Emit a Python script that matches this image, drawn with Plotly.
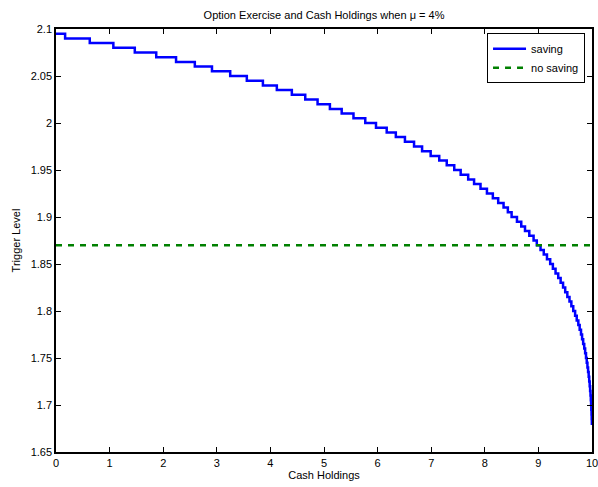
import plotly.graph_objects as go

# Step levels of the "saving" trigger curve and x where each level starts
step_start_x = [
    0.0, 0.17, 0.63, 1.07, 1.47, 1.87, 2.24, 2.59, 2.91, 3.25,
    3.56, 3.86, 4.12, 4.40, 4.65, 4.88, 5.11, 5.33, 5.55, 5.77,
    5.97, 6.17, 6.34, 6.51, 6.68, 6.83, 6.99, 7.15, 7.29, 7.43,
    7.55, 7.69, 7.80, 7.92, 8.04, 8.15, 8.25, 8.35, 8.43, 8.50,
    8.60, 8.68, 8.75, 8.83, 8.91, 8.97, 9.04, 9.10, 9.16, 9.22,
    9.27, 9.32, 9.37, 9.415, 9.46, 9.50, 9.54, 9.58, 9.615, 9.65,
    9.685, 9.715, 9.745, 9.77, 9.795, 9.815, 9.835, 9.855, 9.872, 9.888,
    9.902, 9.915, 9.927, 9.938, 9.948, 9.957, 9.965, 9.972, 9.978, 9.983,
    9.987, 9.991, 9.994, 9.997, 10.0,
]
step_level = [
    2.095, 2.090, 2.085, 2.080, 2.075, 2.070, 2.065, 2.060, 2.055, 2.050,
    2.045, 2.040, 2.035, 2.030, 2.025, 2.020, 2.015, 2.010, 2.005, 2.000,
    1.995, 1.990, 1.985, 1.980, 1.975, 1.970, 1.965, 1.960, 1.955, 1.950,
    1.945, 1.940, 1.935, 1.930, 1.925, 1.920, 1.915, 1.910, 1.905, 1.900,
    1.895, 1.890, 1.885, 1.880, 1.875, 1.870, 1.865, 1.860, 1.855, 1.850,
    1.845, 1.840, 1.835, 1.830, 1.825, 1.820, 1.815, 1.810, 1.805, 1.800,
    1.795, 1.790, 1.785, 1.780, 1.775, 1.770, 1.765, 1.760, 1.755, 1.750,
    1.745, 1.740, 1.735, 1.730, 1.725, 1.720, 1.715, 1.710, 1.705, 1.700,
    1.695, 1.690, 1.685, 1.680, 1.680,
]

no_saving_x = [0, 10]
no_saving_y = [1.87, 1.87]

x_ticks = [0, 1, 2, 3, 4, 5, 6, 7, 8, 9, 10]
x_tick_labels = ["0", "1", "2", "3", "4", "5", "6", "7", "8", "9", "10"]
y_ticks = [1.65, 1.7, 1.75, 1.8, 1.85, 1.9, 1.95, 2.0, 2.05, 2.1]
y_tick_labels = ["1.65", "1.7", "1.75", "1.8", "1.85", "1.9", "1.95", "2", "2.05", "2.1"]

font_family = "Liberation Sans, Arial, Helvetica, sans-serif"

fig = go.Figure()
fig.add_trace(go.Scatter(
    x=step_start_x, y=step_level, mode="lines", name="saving",
    line=dict(color="#0000FF", width=2.5, shape="hv"),
))
fig.add_trace(go.Scatter(
    x=no_saving_x, y=no_saving_y, mode="lines", name="no saving",
    line=dict(color="#008000", width=2.5, dash="6px,6px"),
))

axis_common = dict(
    showline=True, linecolor="black", linewidth=1.5, mirror="ticks",
    ticks="inside", ticklen=5, tickcolor="black", tickwidth=1,
    showgrid=False, zeroline=False, ticklabeloverflow="allow",
    automargin=False,
    tickfont=dict(family=font_family, size=11, color="black"),
)

fig.update_layout(
    width=598, height=487,
    margin=dict(l=56, r=6, t=29, b=35, autoexpand=False),
    paper_bgcolor="white", plot_bgcolor="white",
    font=dict(family=font_family, size=11, color="black"),
    title=dict(text="Option Exercise and Cash Holdings when μ = 4%",
               x=(56 + 268) / 598, xanchor="center", y=1 - 15 / 487, yanchor="middle",
               font=dict(size=11, color="black")),
    xaxis=dict(range=[0, 10], tickvals=x_ticks, ticktext=x_tick_labels,
               title=dict(text="Cash Holdings", standoff=3, font=dict(size=11)),
               **axis_common),
    yaxis=dict(range=[1.65, 2.1], tickvals=y_ticks, ticktext=y_tick_labels,
               title=dict(text="Trigger Level", standoff=8, font=dict(size=11)),
               **axis_common),
    legend=dict(x=0.987, xanchor="right", y=0.99, yanchor="top",
                bgcolor="white", bordercolor="black", borderwidth=1,
                font=dict(size=11), tracegroupgap=0, itemwidth=33),
    showlegend=True,
)

fig.write_html(
    "out.html",
    config={"displayModeBar": False},
    post_script="document.body.style.margin='0px';document.body.style.overflow='hidden';",
)
